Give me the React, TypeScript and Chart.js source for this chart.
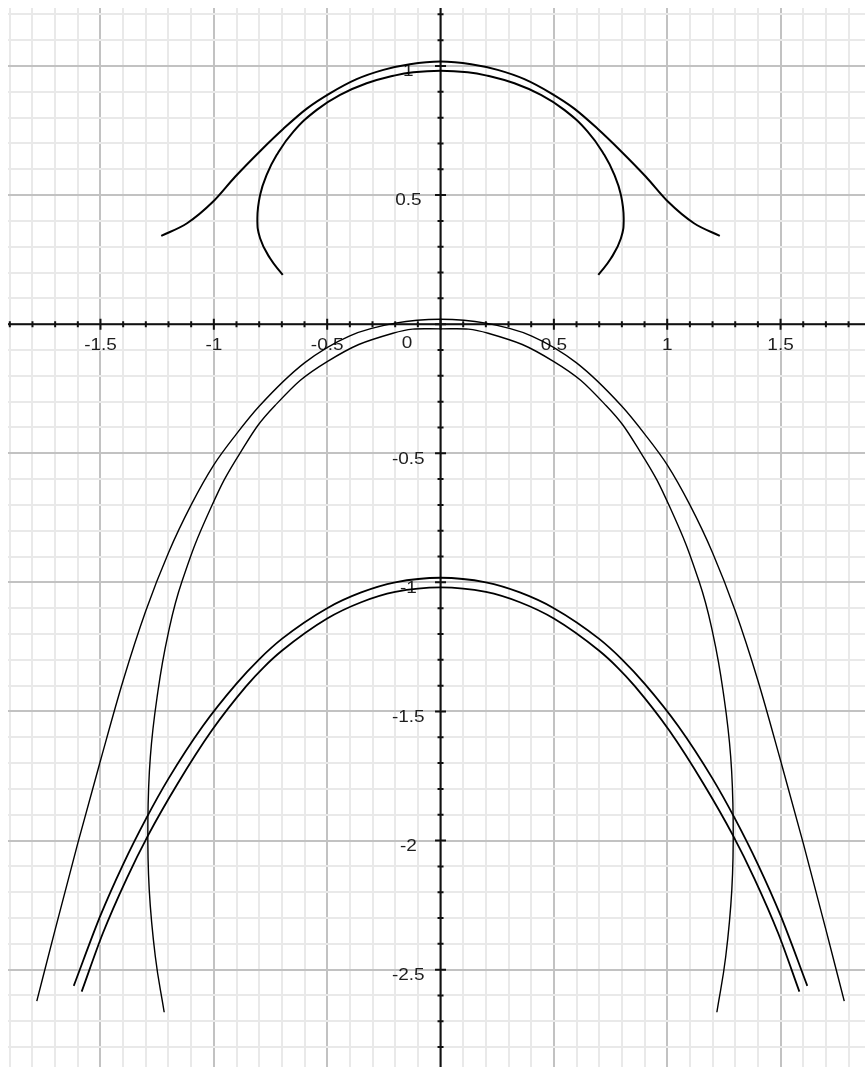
import { useEffect, useRef } from 'react';
import { Chart, registerables } from 'chart.js';

Chart.register(...registerables);

// ---- axis ranges (data units) ----
const X_MIN = -1.908;
const X_MAX = 1.8725;
const Y_MIN = -2.877;
const Y_MAX = 1.2246;

// ---- grid positions (every 0.1) ----
const xGridValues: number[] = Array.from({ length: 38 }, (_, i) => (i - 19) / 10);
const yGridValues: number[] = Array.from({ length: 41 }, (_, i) => (i - 28) / 10);

// ---- tick labels ----
const xTickValues = [-1.5, -1, -0.5, 0, 0.5, 1, 1.5];
const xTickLabels = ['-1.5', '-1', '-0.5', '0', '0.5', '1', '1.5'];
const yTickValues = [1, 0.5, -0.5, -1, -1.5, -2, -2.5];
const yTickLabels = ['1', '0.5', '-0.5', '-1', '-1.5', '-2', '-2.5'];

// ---- curve 1: upper bell ----
const bellX = [-1.232, -1.118, -1.004, -0.906, -0.794, -0.693, -0.59, -0.486, -0.37, -0.252, -0.135, 0, 0.135, 0.252, 0.37, 0.486, 0.59, 0.693, 0.794, 0.906, 1.004, 1.118, 1.232];
const bellY = [0.342, 0.391, 0.474, 0.571, 0.672, 0.757, 0.835, 0.895, 0.949, 0.985, 1.007, 1.017, 1.007, 0.985, 0.949, 0.895, 0.835, 0.757, 0.672, 0.571, 0.474, 0.391, 0.342];

// ---- curve 2: upper arc ----
const arcX = [-0.696, -0.752, -0.796, -0.808, -0.796, -0.767, -0.723, -0.649, -0.546, -0.443, -0.326, -0.208, -0.12, 0, 0.12, 0.208, 0.326, 0.443, 0.546, 0.649, 0.723, 0.767, 0.796, 0.808, 0.796, 0.752, 0.696];
const arcY = [0.191, 0.255, 0.333, 0.41, 0.5, 0.578, 0.655, 0.746, 0.83, 0.888, 0.933, 0.962, 0.976, 0.982, 0.976, 0.962, 0.933, 0.888, 0.83, 0.746, 0.655, 0.578, 0.5, 0.41, 0.333, 0.255, 0.191];

// ---- curve 3: large outer parabola ----
const bigOuterX = [-1.781, -1.7, -1.6, -1.5, -1.4, -1.3, -1.2, -1.1, -1.0, -0.9, -0.8, -0.6, -0.4, -0.2, 0, 0.2, 0.4, 0.6, 0.8, 0.9, 1.0, 1.1, 1.2, 1.3, 1.4, 1.5, 1.6, 1.7, 1.781];
const bigOuterY = [-2.622, -2.345, -2.01, -1.69, -1.38, -1.11, -0.885, -0.7, -0.545, -0.425, -0.318, -0.15, -0.045, 0.004, 0.019, 0.004, -0.045, -0.15, -0.318, -0.425, -0.545, -0.7, -0.885, -1.11, -1.38, -1.69, -2.01, -2.345, -2.622];

// ---- curve 4: large inner oval ----
const bigInnerX = [-1.219, -1.258, -1.285, -1.291, -1.28, -1.248, -1.203, -1.14, -1.015, -0.885, -0.73, -0.5, -0.21, 0, 0.21, 0.5, 0.73, 0.885, 1.015, 1.14, 1.203, 1.248, 1.28, 1.291, 1.285, 1.258, 1.219];
const bigInnerY = [-2.665, -2.45, -2.19, -1.933, -1.675, -1.43, -1.205, -0.995, -0.715, -0.5, -0.315, -0.145, -0.035, -0.018, -0.035, -0.145, -0.315, -0.5, -0.715, -0.995, -1.205, -1.43, -1.675, -1.933, -2.19, -2.45, -2.665];

// ---- curve 5: lower parabola (upper strand) ----
const lowOuterX = [-1.618, -1.5, -1.4, -1.3, -1.2, -1.05, -0.9, -0.8, -0.7, -0.5, -0.35, -0.2, 0, 0.2, 0.35, 0.5, 0.7, 0.8, 0.9, 1.05, 1.2, 1.3, 1.4, 1.5, 1.618];
const lowOuterY = [-2.563, -2.29, -2.092, -1.917, -1.76, -1.558, -1.392, -1.298, -1.219, -1.1, -1.039, -1.0, -0.982, -1.0, -1.039, -1.1, -1.219, -1.298, -1.392, -1.558, -1.76, -1.917, -2.092, -2.29, -2.563];

// ---- curve 6: lower parabola (lower strand) ----
const lowInnerX = [-1.583, -1.49, -1.385, -1.29, -1.16, -1.01, -0.857, -0.78, -0.7, -0.5, -0.35, -0.2, 0, 0.2, 0.35, 0.5, 0.7, 0.78, 0.857, 1.01, 1.16, 1.29, 1.385, 1.49, 1.583];
const lowInnerY = [-2.585, -2.36, -2.148, -1.98, -1.78, -1.575, -1.402, -1.329, -1.265, -1.14, -1.077, -1.037, -1.019, -1.037, -1.077, -1.14, -1.265, -1.329, -1.402, -1.575, -1.78, -1.98, -2.148, -2.36, -2.585];

const MAJOR_GRID = '#c2c2c2';
const MINOR_GRID = '#e9e9e9';
const AXIS_COLOR = '#111111';
const LABEL_COLOR = '#1e1e1e';

const isMajor = (v: number) => Math.abs(v * 2 - Math.round(v * 2)) < 1e-6;

const pts = (xs: number[], ys: number[]) => xs.map((x, i) => ({ x, y: ys[i] }));

const crossAxesPlugin = {
  id: 'crossAxes',
  beforeDatasetsDraw(chart: any) {
    const { ctx, chartArea: a } = chart;
    const xs = chart.scales.x;
    const ys = chart.scales.y;
    const ox = xs.getPixelForValue(0);
    const oy = ys.getPixelForValue(0);
    ctx.save();
    ctx.strokeStyle = AXIS_COLOR;
    ctx.lineWidth = 2;
    ctx.beginPath();
    ctx.moveTo(a.left, oy);
    ctx.lineTo(a.right, oy);
    ctx.moveTo(ox, a.top);
    ctx.lineTo(ox, a.bottom);
    ctx.stroke();
    ctx.beginPath();
    xGridValues.forEach((v) => {
      const p = xs.getPixelForValue(v);
      const l = isMajor(v) ? 5.5 : 3;
      ctx.moveTo(p, oy - l);
      ctx.lineTo(p, oy + l);
    });
    yGridValues.forEach((v) => {
      const p = ys.getPixelForValue(v);
      const l = isMajor(v) ? 5.5 : 3;
      ctx.moveTo(ox - l, p);
      ctx.lineTo(ox + l, p);
    });
    ctx.stroke();

    ctx.fillStyle = LABEL_COLOR;
    ctx.font = '16.5px "Liberation Sans", Arial, sans-serif';
    ctx.textAlign = 'center';
    ctx.textBaseline = 'alphabetic';
    const drawLabel = (t: string, cx: number, by: number) => {
      ctx.save();
      ctx.translate(cx, by);
      ctx.scale(1.15, 1);
      ctx.fillText(t, 0, 0);
      ctx.restore();
    };
    xTickValues.forEach((v, i) => {
      const cx = v === 0 ? ox - 33.5 : xs.getPixelForValue(v);
      const by = v === 0 ? oy + 24 : oy + 25.7;
      drawLabel(xTickLabels[i], cx, by);
    });
    yTickValues.forEach((v, i) => {
      drawLabel(yTickLabels[i], ox - 32.2, ys.getPixelForValue(v) + 10.3);
    });
    ctx.restore();
  },
};

const lineDs = (xs: number[], ys: number[], width: number, monotone: boolean) => ({
  data: pts(xs, ys),
  showLine: true,
  borderColor: '#000000',
  borderWidth: width,
  pointRadius: 0,
  pointHoverRadius: 0,
  tension: 0.45,
  cubicInterpolationMode: monotone ? 'monotone' : 'default',
  fill: false,
});

export default function App() {
  const ref = useRef<HTMLCanvasElement | null>(null);

  useEffect(() => {
    if (!ref.current) return;
    const gridColor = (c: any) => (c.tick && isMajor(c.tick.value) ? MAJOR_GRID : MINOR_GRID);
    const chart = new Chart(ref.current, {
      type: 'scatter',
      data: {
        datasets: [
          lineDs(bellX, bellY, 2, true),
          lineDs(arcX, arcY, 2, false),
          lineDs(bigOuterX, bigOuterY, 1.4, true),
          lineDs(bigInnerX, bigInnerY, 1.4, false),
          lineDs(lowOuterX, lowOuterY, 1.8, true),
          lineDs(lowInnerX, lowInnerY, 1.8, true),
        ] as any,
      },
      options: {
        animation: false,
        responsive: false,
        devicePixelRatio: 1,
        layout: { padding: 0 },
        plugins: {
          legend: { display: false },
          tooltip: { enabled: false },
        },
        events: [],
        scales: {
          x: {
            type: 'linear',
            position: 'bottom',
            min: X_MIN,
            max: X_MAX,
            ticks: { display: false },
            border: { display: false },
            grid: { drawTicks: false, color: gridColor, lineWidth: 2 },
            afterBuildTicks: (s: any) => {
              s.ticks = xGridValues.map((v) => ({ value: v }));
            },
          },
          y: {
            type: 'linear',
            position: 'left',
            min: Y_MIN,
            max: Y_MAX,
            ticks: { display: false },
            border: { display: false },
            grid: { drawTicks: false, color: gridColor, lineWidth: 2 },
            afterBuildTicks: (s: any) => {
              s.ticks = yGridValues.map((v) => ({ value: v }));
            },
          },
        },
      } as any,
      plugins: [crossAxesPlugin],
    });
    return () => chart.destroy();
  }, []);

  return (
    <div style={{ position: 'fixed', left: 8, top: 8, width: 857, height: 1059 }}>
      <canvas ref={ref} width={857} height={1059} style={{ display: 'block' }} />
    </div>
  );
}
